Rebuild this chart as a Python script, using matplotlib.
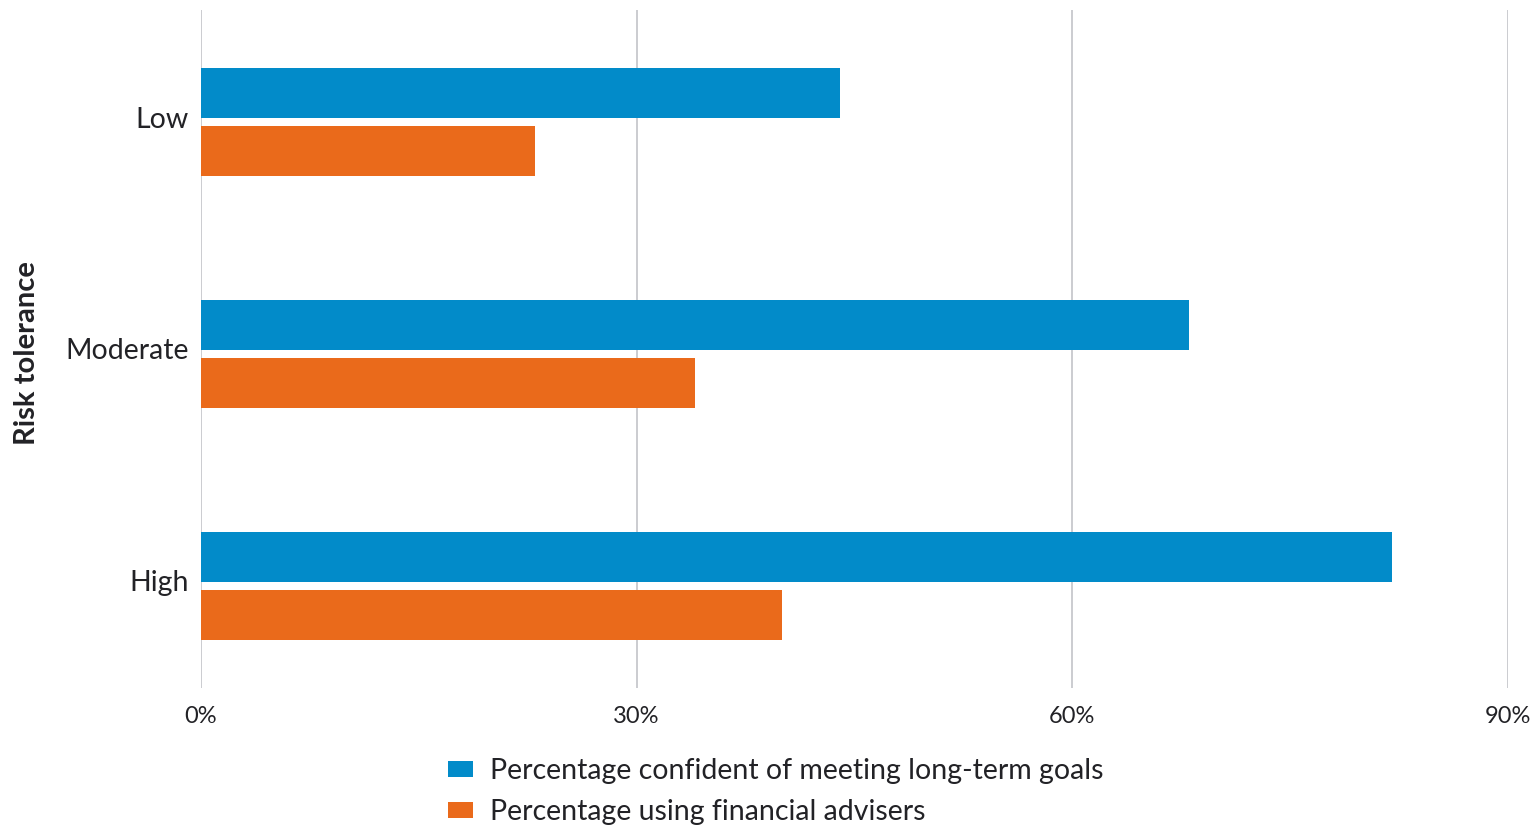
import matplotlib.pyplot as plt
import matplotlib.transforms as mtransforms
import numpy as np

categories = ["Low", "Moderate", "High"]
confident = [44, 68, 82]
advisers = [23, 34, 40]
series_labels = ["Percentage confident of meeting long-term goals",
                 "Percentage using financial advisers"]
xticks = [0, 30, 60, 90]

blue = "#028BC9"
orange = "#EA6A1B"
grid_col = "#BDBEC3"
text_col = "#222226"

plt.rcParams['font.family'] = ['Lato', 'DejaVu Sans']

fig = plt.figure(figsize=(15.39, 8.25), dpi=100)
ax = fig.add_axes([201 / 1539, 1 - 688 / 825, 1307 / 1539, 678 / 825])

y = np.arange(len(categories))
h = 0.2155
off = 0.125
ax.barh(y - off, confident, height=h, color=blue, label=series_labels[0], zorder=3)
ax.barh(y + off, advisers, height=h, color=orange, label=series_labels[1], zorder=3)

ax.set_xlim(0, 90)
ax.set_ylim(2.44, -0.483)
ax.set_xticks(xticks)
ax.set_xticklabels([f"{t}%" for t in xticks], fontsize=17, color=text_col)
ax.set_yticks(y)
ax.set_yticklabels(categories, fontsize=20.5, color=text_col)
ax.tick_params(axis='both', length=0)
ax.tick_params(axis='x', pad=13)
ax.tick_params(axis='y', pad=9)
# category labels sit a little above the bar pair centre
shift = mtransforms.ScaledTranslation(0, 5 / 100, fig.dpi_scale_trans)
for lab in ax.get_yticklabels():
    lab.set_transform(lab.get_transform() + shift)
for s in ax.spines.values():
    s.set_visible(False)
ax.grid(axis='x', color=grid_col, linewidth=1.1, zorder=0)
ax.set_axisbelow(True)

fig.text(27 / 1539, 1 - 353 / 825, "Risk tolerance", rotation=90, fontsize=21,
         fontweight='bold', color=text_col, ha='center', va='center')

fig.legend(loc='upper left', bbox_to_anchor=(448 / 1539, 1 - 758 / 825),
           frameon=False, fontsize=20.5, handlelength=0.88, handleheight=0.45,
           handletextpad=0.6, labelspacing=0.53, labelcolor=text_col,
           borderaxespad=0, borderpad=0)

fig.savefig("out.png", dpi=100)
